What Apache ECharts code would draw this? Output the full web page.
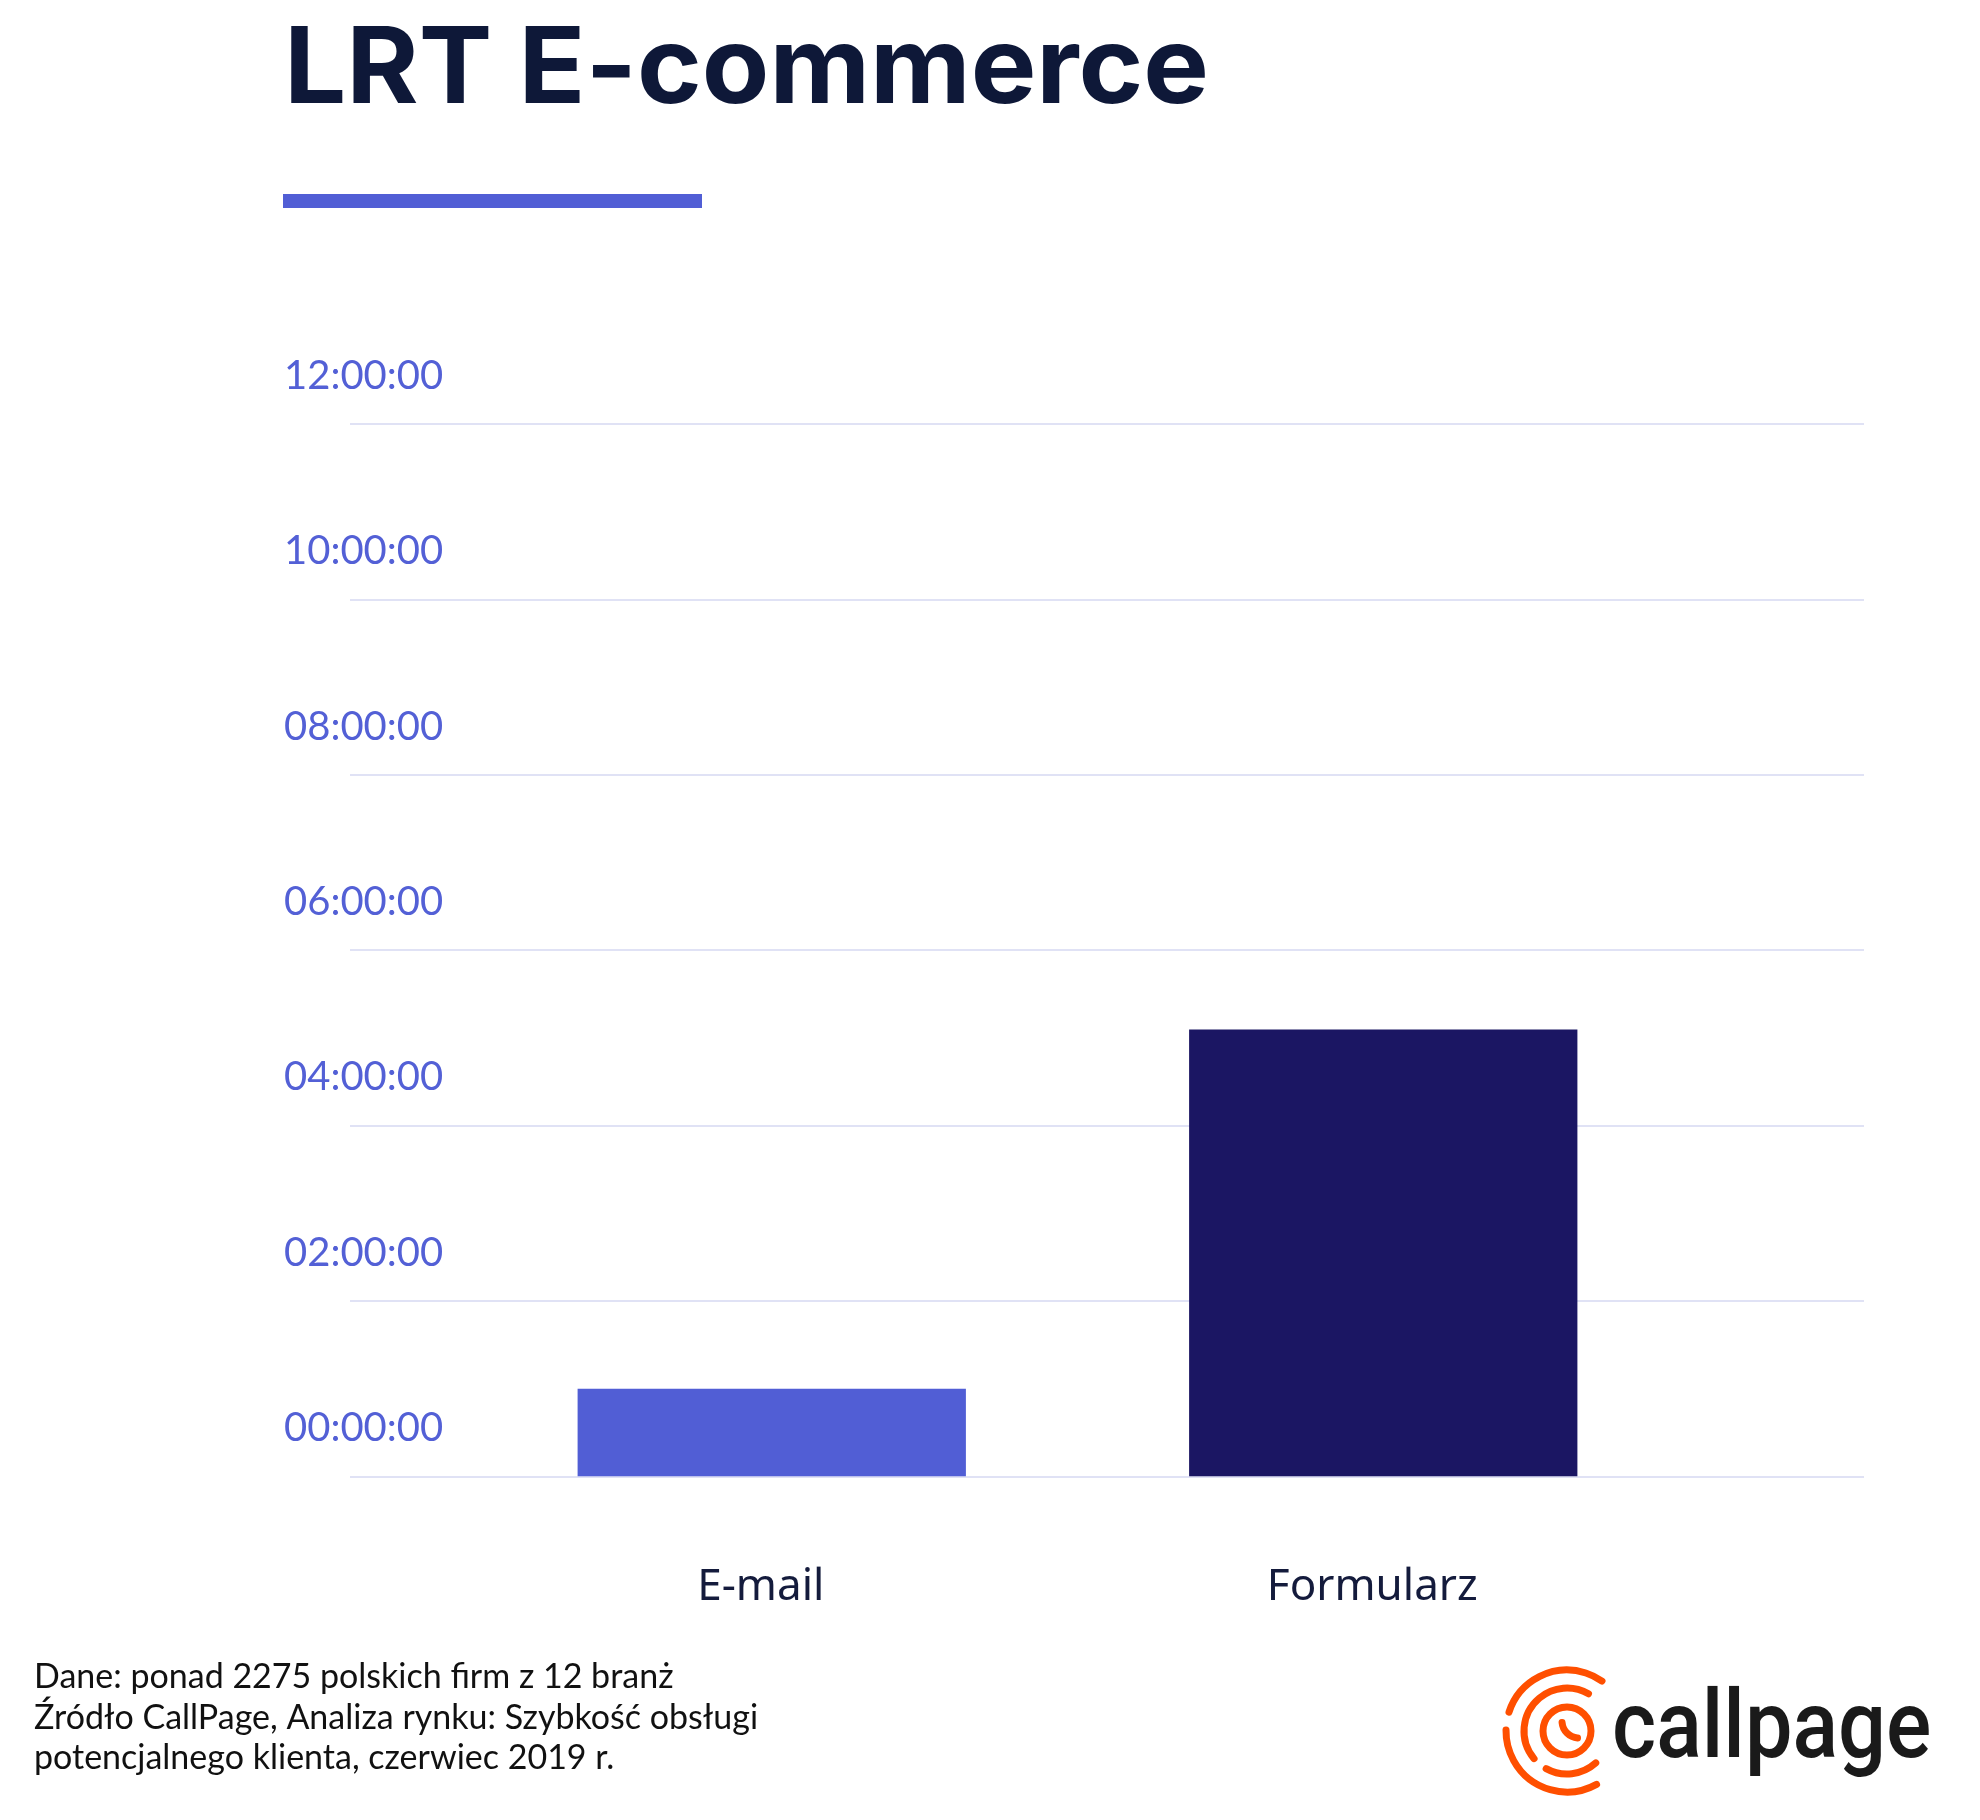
<!DOCTYPE html>
<html>
<head>
<meta charset="utf-8">
<script src="https://cdn.jsdelivr.net/npm/echarts@6/dist/echarts.min.js"></script>
<style>
html,body{margin:0;padding:0;background:#fff;}
#chart{width:1980px;height:1820px;}
</style>
</head>
<body>
<div id="chart"></div>
<script>
// ---- data ----
const categories = ['E-mail', 'Formularz'];
const responseTimes = ['00:59:55', '05:05:40'];
const barColors = ['#515ED5', '#1B1663'];
const yTickLabels = ['00:00:00', '02:00:00', '04:00:00', '06:00:00', '08:00:00', '10:00:00', '12:00:00'];
const titleText = 'LRT E-commerce';
const footerLines = [
  'Dane: ponad 2275 polskich firm z 12 branż',
  'Źródło CallPage, Analiza rynku: Szybkość obsługi',
  'potencjalnego klienta, czerwiec 2019 r.'
];
const logoText = 'callpage';

function toSeconds(s) {
  const p = s.split(':').map(Number);
  return p[0] * 3600 + p[1] * 60 + p[2];
}
const step = 7200;
const yMax = step * (yTickLabels.length - 1);

const chart = echarts.init(document.getElementById('chart'), null, { renderer: 'canvas' });

const orange = '#FF4F00';
const cx = 1567, cy = 1731;
const deg = Math.PI / 180;
function arc(r, a0, a1) {
  return {
    type: 'arc',
    shape: { cx: cx, cy: cy, r: r, startAngle: a0 * deg, endAngle: a1 * deg, clockwise: true },
    style: { stroke: orange, lineWidth: 7, fill: null, lineCap: 'round' }
  };
}

const option = {
  backgroundColor: '#ffffff',
  animation: false,
  grid: [
    { left: 350, right: 116, top: 424, bottom: 343.7 },
    { left: 466, right: 291, top: 424, bottom: 343.7 }
  ],
  xAxis: [
    { type: 'category', gridIndex: 0, data: [''], show: false },
    {
      type: 'category', gridIndex: 1, data: categories,
      axisLine: { show: false }, axisTick: { show: false },
      axisLabel: { color: '#141B3C', fontSize: 44, fontFamily: 'Noto Sans', margin: 89, padding: [0, 22, 0, 0] }
    }
  ],
  yAxis: [
    {
      type: 'value', gridIndex: 0, min: 0, max: yMax, interval: step,
      axisLine: { show: false }, axisTick: { show: false },
      splitLine: { show: true, lineStyle: { color: '#D6D9F2', width: 1.5 } },
      axisLabel: {
        color: '#5360D6', fontSize: 40, fontFamily: 'Lato', align: 'left', margin: 66,
        verticalAlign: 'bottom', lineHeight: 96,
        formatter: function (v) { return yTickLabels[Math.round(v / step)]; }
      }
    },
    { type: 'value', gridIndex: 1, min: 0, max: yMax, interval: step, show: false }
  ],
  series: [
    {
      type: 'bar', xAxisIndex: 1, yAxisIndex: 1,
      barWidth: '63.5%',
      data: responseTimes.map(function (t, i) {
        return { value: toSeconds(t), itemStyle: { color: barColors[i] } };
      })
    }
  ],
  graphic: [
    {
      type: 'text', x: 284, y: 18, scaleX: 1.04,
      style: { text: titleText, fill: '#0E1838', font: 'bold 106px Inter' }
    },
    {
      type: 'rect', shape: { x: 283, y: 194, width: 419, height: 14 },
      style: { fill: '#515ED5' }
    },
    {
      type: 'text', x: 34, y: 1677,
      style: { text: footerLines[0], fill: '#111111', font: '34px Lato', verticalAlign: 'middle' }
    },
    {
      type: 'text', x: 34, y: 1718,
      style: { text: footerLines[1], fill: '#111111', font: '34px Lato', verticalAlign: 'middle' }
    },
    {
      type: 'text', x: 34, y: 1758,
      style: { text: footerLines[2], fill: '#111111', font: '34px Lato', verticalAlign: 'middle' }
    },
    arc(24, 0, 360),
    arc(43, 140, 300),
    arc(43, 48, 119),
    arc(61, 198, 305),
    arc(61, 61, 181),
    {
      type: 'arc',
      shape: { cx: 1579, cy: 1721, r: 17, startAngle: 95 * deg, endAngle: 175 * deg, clockwise: true },
      style: { stroke: orange, lineWidth: 7, fill: null, lineCap: 'round' }
    },
    {
      type: 'text', x: 1612, y: 1733, scaleX: 0.9,
      style: { text: logoText, fill: '#1A1A1A', font: '500 94px Roboto', verticalAlign: 'middle' }
    }
  ]
};
chart.setOption(option);
</script>
</body>
</html>
